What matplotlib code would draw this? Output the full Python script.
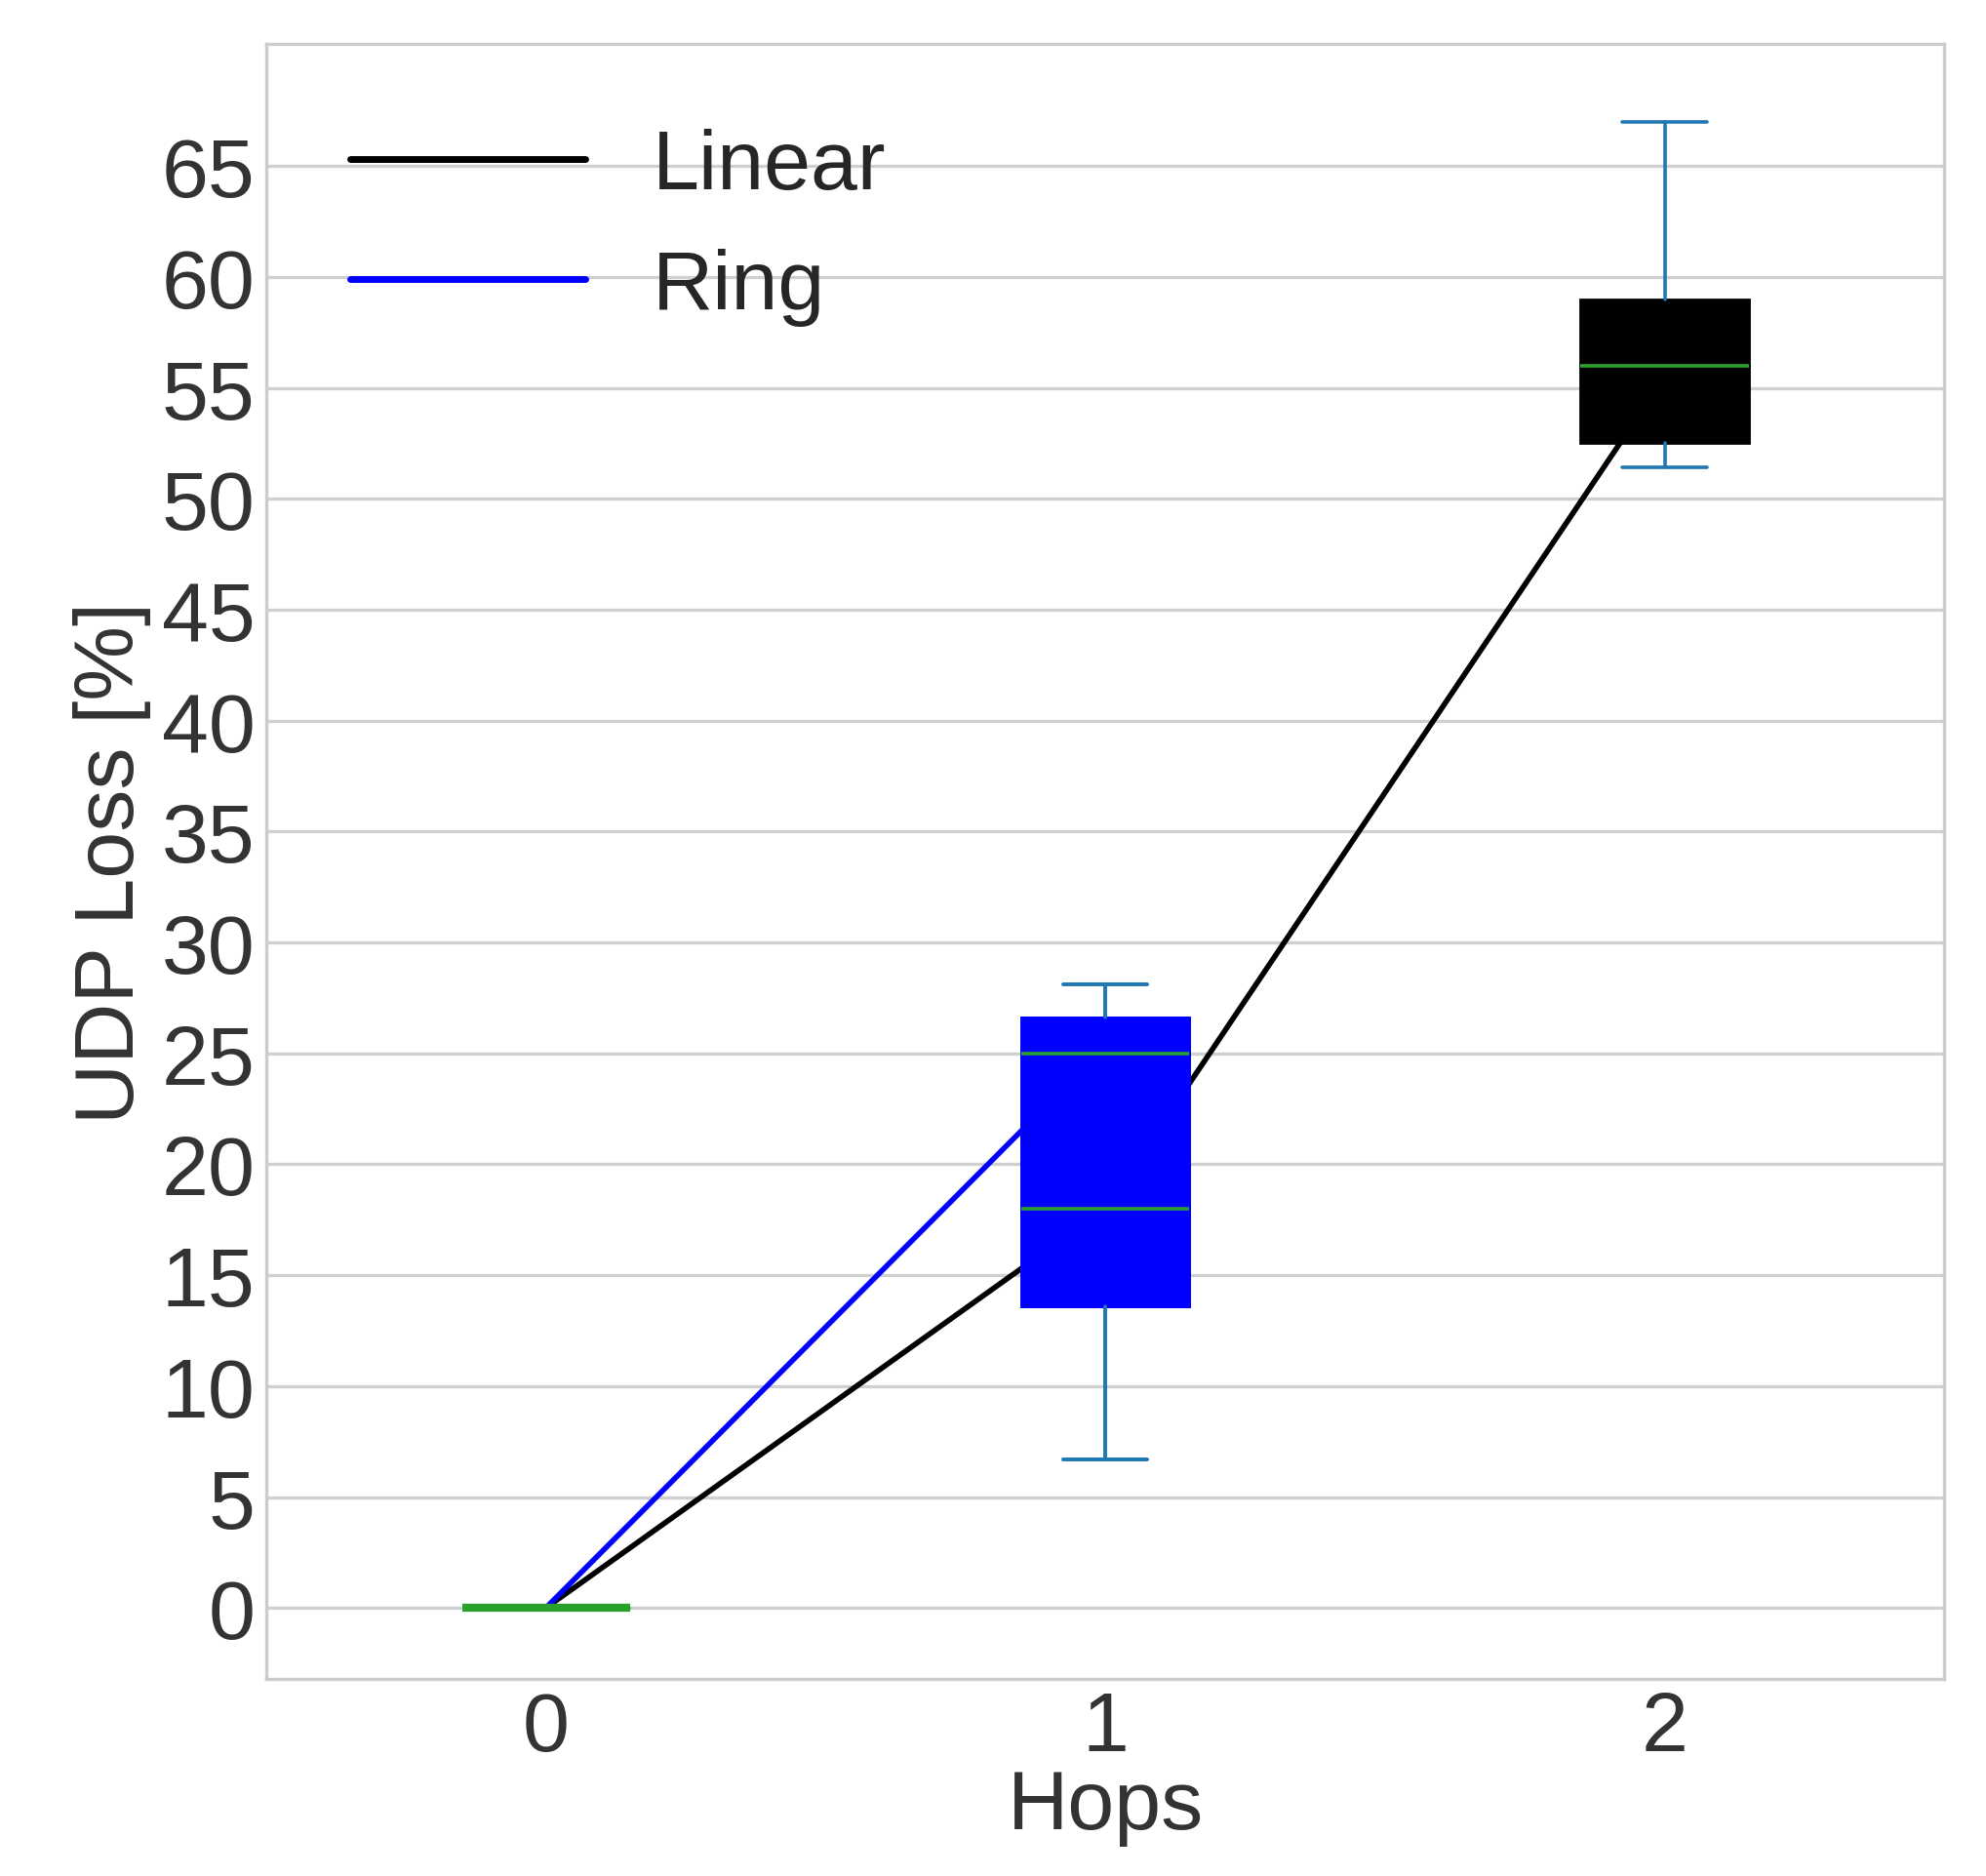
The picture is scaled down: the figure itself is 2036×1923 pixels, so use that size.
import matplotlib.pyplot as plt

plt.style.use('seaborn-v0_8-whitegrid')

hops = [0, 1, 2]
linear = [0, 18, 55.5]
ring = [0, 25.3]

# box stats per hop
box_pos = [0, 1, 1, 2]
box_lo = [0, 6.7, 6.7, 51.4]
box_q1 = [0, 13.6, 13.6, 52.5]
box_med = [0, 18, 25, 56]
box_q3 = [0, 26.6, 26.6, 59]
box_hi = [0, 28.1, 28.1, 67]
box_col = ['#2ca02c', 'blue', 'blue', 'black']

fig = plt.figure(figsize=(10.18, 9.62), dpi=200)
ax = fig.add_axes([0.134, 0.105, 0.845, 0.871])

ax.plot(hops, linear, color='black', lw=2, label='Linear', zorder=2)
ax.plot(hops[:2], ring, color='blue', lw=2, label='Ring', zorder=2)

stats = []
for i in range(len(box_pos)):
    stats.append(dict(whislo=box_lo[i], q1=box_q1[i], med=box_med[i],
                      q3=box_q3[i], whishi=box_hi[i], fliers=[]))
bp = ax.bxp(stats, positions=box_pos, widths=0.3, patch_artist=True,
            manage_ticks=False, zorder=3,
            whiskerprops=dict(color='#1f77b4', lw=1.3),
            capprops=dict(color='#1f77b4', lw=1.3),
            medianprops=dict(color='#2ca02c', lw=1.3))
for patch, c in zip(bp['boxes'], box_col):
    patch.set_facecolor(c)
    patch.set_edgecolor(c)
bp['medians'][0].set_linewidth(3)

ax.set_xlim(-0.5, 2.5)
ax.set_ylim(-3.2, 70.5)
ax.set_yticks(range(0, 70, 5))
ax.set_xticks(hops)
ax.tick_params(labelsize=31, colors='#333333', pad=4)
ax.grid(axis='x', visible=False)
ax.grid(axis='y', color='#d0d0d0', lw=1.2)
for s in ax.spines.values():
    s.set_visible(True)
    s.set_color('#cccccc')
    s.set_linewidth(1.2)
ax.set_xlabel('Hops', fontsize=31, color='#333333', labelpad=0)
ax.set_ylabel('UDP Loss [%]', fontsize=31, color='#333333', labelpad=4)

leg = ax.legend(loc='upper left', fontsize=31, frameon=False,
                handlelength=2.8, borderaxespad=0.6, labelspacing=0.5)
for h in leg.legend_handles:
    h.set_linewidth(2.5)

fig.savefig('out.png', dpi=200)
